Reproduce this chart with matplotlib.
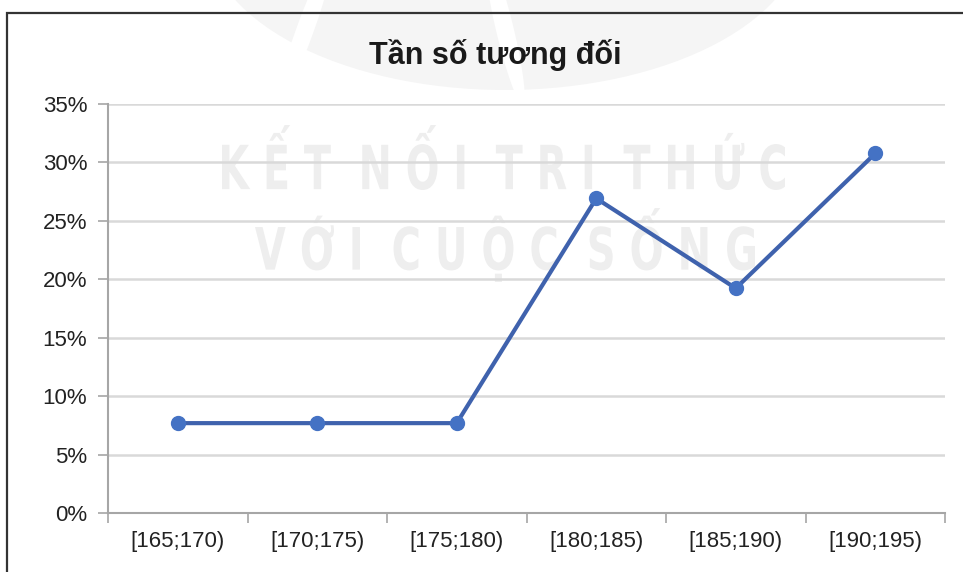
import matplotlib.pyplot as plt
from matplotlib.patches import Rectangle, Ellipse, PathPatch
from matplotlib.textpath import TextPath
from matplotlib.font_manager import FontProperties
from matplotlib.transforms import Affine2D
from matplotlib.ticker import FuncFormatter, FixedLocator

plt.rcParams['font.family'] = ['Liberation Sans', 'DejaVu Sans']

classes = ['[165;170)', '[170;175)', '[175;180)', '[180;185)', '[185;190)', '[190;195)']
rel_freq = [7.69, 7.69, 7.69, 26.92, 19.23, 30.77]
y_ticks = [0, 5, 10, 15, 20, 25, 30, 35]

W, H = 963, 572
fig = plt.figure(figsize=(W / 100, H / 100), dpi=100)


def px(x, y):
    # pixel position (from top-left) -> figure fraction
    return x / W, 1 - y / H


def stamp(s, x0, y0, x1, y1):
    # text squeezed into a pixel box, drawn behind the axes
    tp = TextPath((0, 0), s, size=100,
                  prop=FontProperties(family='DejaVu Sans', weight='bold'))
    e = tp.get_extents()
    tr = (Affine2D().translate(-e.x0, -e.y0)
          .scale((x1 - x0) / e.width / W, (y1 - y0) / e.height / H)
          .translate(x0 / W, 1 - y1 / H)) + fig.transFigure
    fig.patches.append(PathPatch(tp, transform=tr, facecolor='#eeeeee',
                                 edgecolor='none', zorder=-1))


# faint logo at the top
fig.patches.append(Ellipse(px(505, -70), 600 / W, 320 / H, transform=fig.transFigure,
                           facecolor='#f5f5f5', edgecolor='none', zorder=-2))
for cx, ang in [(305, -12), (505, 8)]:
    fig.patches.append(Ellipse(px(cx, 30), 18 / W, 150 / H, angle=ang,
                               transform=fig.transFigure, facecolor='white',
                               edgecolor='none', zorder=-2))

stamp('K Ế T  N Ố I  T R I  T H Ứ C', 222, 125, 785, 190)
stamp('V Ớ I  C U Ộ C  S Ố N G', 255, 208, 755, 282)

# chart frame
fig.patches.append(Rectangle((7 / W, -0.05), 1.1, 1 - 13 / H + 0.05,
                             transform=fig.transFigure, fill=False,
                             edgecolor='#333333', linewidth=1.6, zorder=1))

ax = fig.add_axes([108 / W, 1 - 513 / H, (945 - 108) / W, (513 - 104) / H])
ax.set_facecolor('none')

x = range(len(classes))
ax.plot(x, rel_freq, color='#3f62ad', linewidth=3, marker='o', markersize=10,
        markerfacecolor='#4472c4', markeredgecolor='#4472c4', zorder=5)

ax.set_xlim(-0.5, len(classes) - 0.5)
ax.set_ylim(0, 35)
ax.set_yticks(y_ticks)
ax.yaxis.set_major_formatter(FuncFormatter(lambda v, p: f'{v:.0f}%'))
ax.set_xticks(list(x))
ax.set_xticklabels(classes)
ax.xaxis.set_minor_locator(FixedLocator([i - 0.5 for i in range(len(classes) + 1)]))

ax.grid(axis='y', color='#d9d9d9', linewidth=1.8, zorder=0)
ax.set_axisbelow(True)
for s in ['top', 'right']:
    ax.spines[s].set_visible(False)
for s in ['left', 'bottom']:
    ax.spines[s].set_color('#a6a6a6')
    ax.spines[s].set_linewidth(1.5)

ax.tick_params(axis='y', length=7, width=1.2, color='#a6a6a6', labelsize=16,
               labelcolor='#222222', pad=8)
ax.tick_params(axis='x', which='major', length=0, labelsize=16,
               labelcolor='#222222', pad=13)
ax.tick_params(axis='x', which='minor', length=7, width=1.2, color='#a6a6a6')

fig.text(495 / W, 1 - 55 / H, 'Tần số tương đối', ha='center', va='center',
         fontsize=22, fontweight='bold', color='#1a1a1a')

fig.savefig('out.png', dpi=100)
